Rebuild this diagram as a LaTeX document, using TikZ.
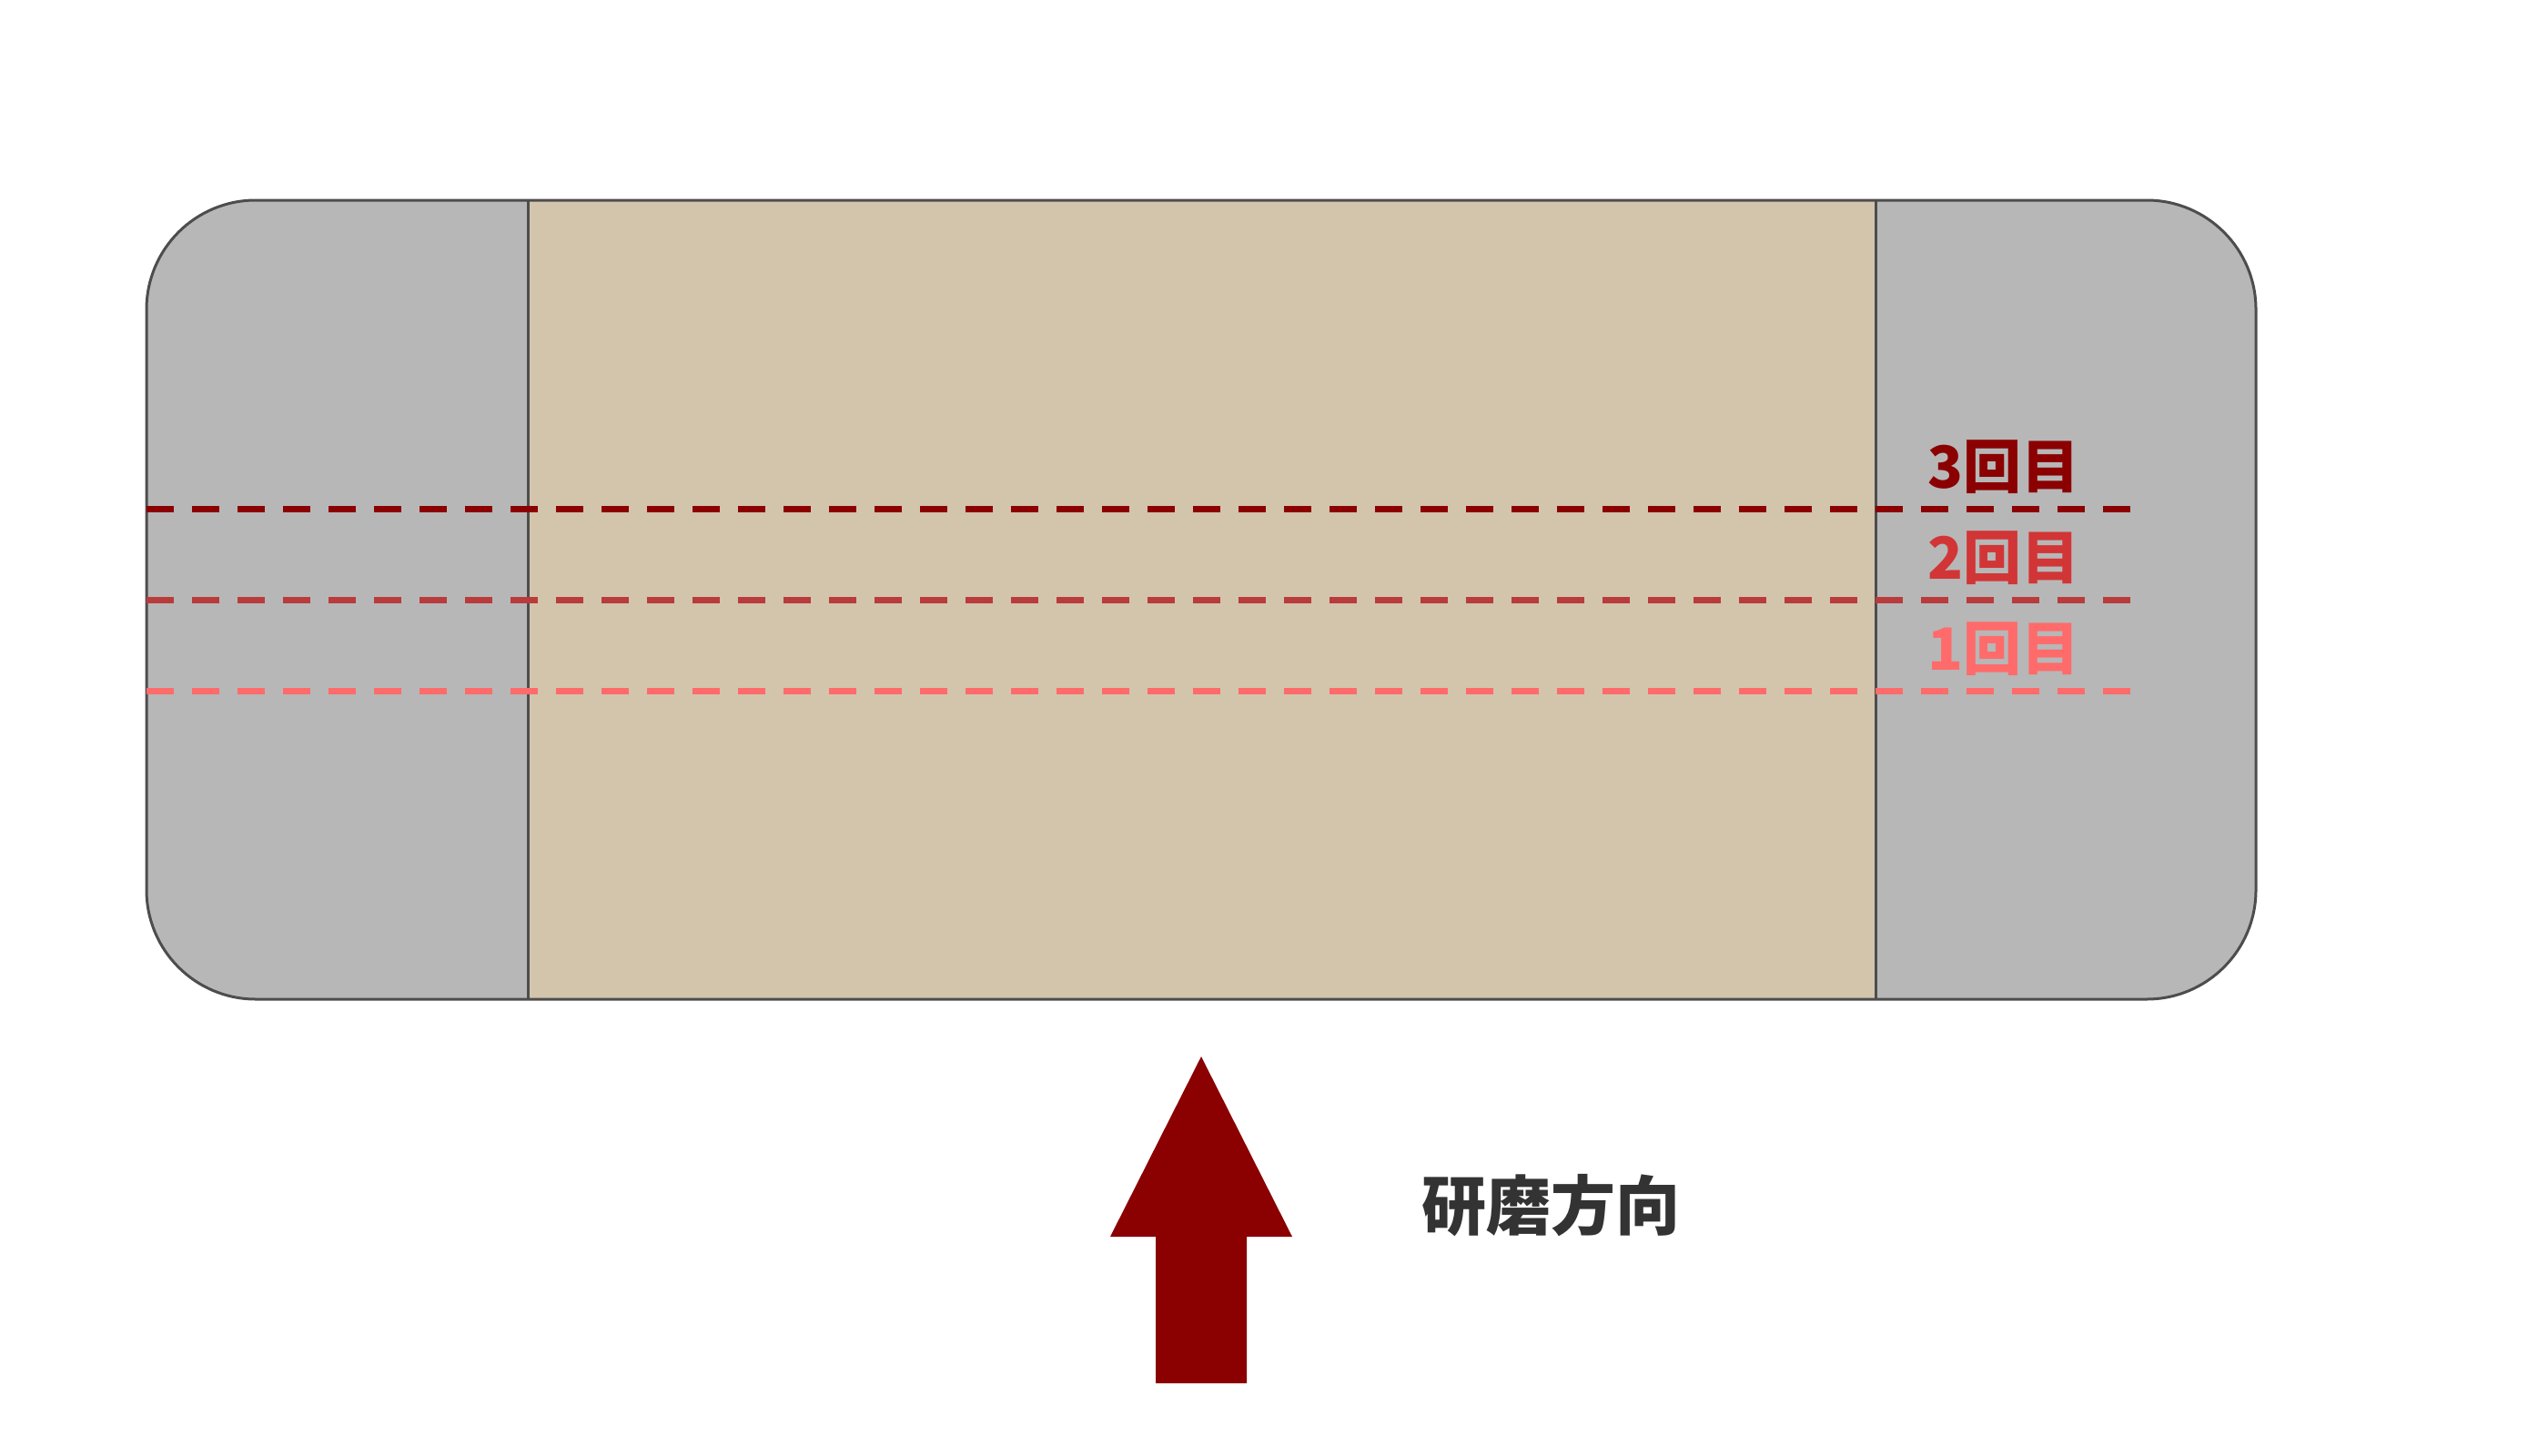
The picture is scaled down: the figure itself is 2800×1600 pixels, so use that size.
\documentclass[tikz,border=0pt]{standalone}
\usepackage{fontspec}
\newfontfamily\cjk{Noto Sans CJK JP}
\definecolor{bodygray}{HTML}{B7B7B7}
\definecolor{beige}{HTML}{D3C4AC}
\definecolor{edge}{HTML}{4D4D4D}
\definecolor{passthree}{HTML}{8B0000}
\definecolor{passtwo}{HTML}{B93B3B}
\definecolor{passtwotext}{HTML}{D23536}
\definecolor{passone}{HTML}{FF6B6B}
\definecolor{txt}{HTML}{333333}
\tikzset{
  outline/.style={draw=edge, line width=3pt},
  passline/.style={line width=7pt, dash pattern=on 30pt off 20pt},
  passlabel/.style={font=\cjk\bfseries\fontsize{64}{64}\selectfont, inner sep=0pt, anchor=center},
}
\begin{document}
\begin{tikzpicture}[x=1pt,y=-1pt]
\useasboundingbox (0,0) rectangle (2800,1600);
% body
\fill[bodygray, rounded corners=120pt] (161,220) rectangle (2479,1098);
\fill[beige] (580,220) rectangle (2061,1098);
\draw[outline, rounded corners=120pt] (161,220) rectangle (2479,1098);
\coordinate (lt) at (580,220); \coordinate (lb) at (580,1098);
\coordinate (rt) at (2061,220); \coordinate (rb) at (2061,1098);
\draw[outline] (lt) -- (lb);
\draw[outline] (rt) -- (rb);
% pass lines
\coordinate (a3) at (161,559); \coordinate (b3) at (2341,559);
\coordinate (a2) at (161,659); \coordinate (b2) at (2341,659);
\coordinate (a1) at (161,759); \coordinate (b1) at (2341,759);
\draw[passline, passthree] (a3) -- (b3);
\draw[passline, passtwo] (a2) -- (b2);
\draw[passline, passone] (a1) -- (b1);
\node[passlabel, text=passthree] (l3) at (2202,513) {3回目};
\node[passlabel, text=passtwotext] (l2) at (2202,613) {2回目};
\node[passlabel, text=passone] (l1) at (2202,713) {1回目};
% arrow
\fill[passthree] (1320,1161) -- (1420,1359) -- (1370,1359) -- (1370,1520) -- (1270,1520) -- (1270,1359) -- (1220,1359) -- cycle;
\node[font=\cjk\bfseries\fontsize{71}{71}\selectfont, text=txt, inner sep=0pt] (dir) at (1704,1325) {研磨方向};
\end{tikzpicture}
\end{document}
